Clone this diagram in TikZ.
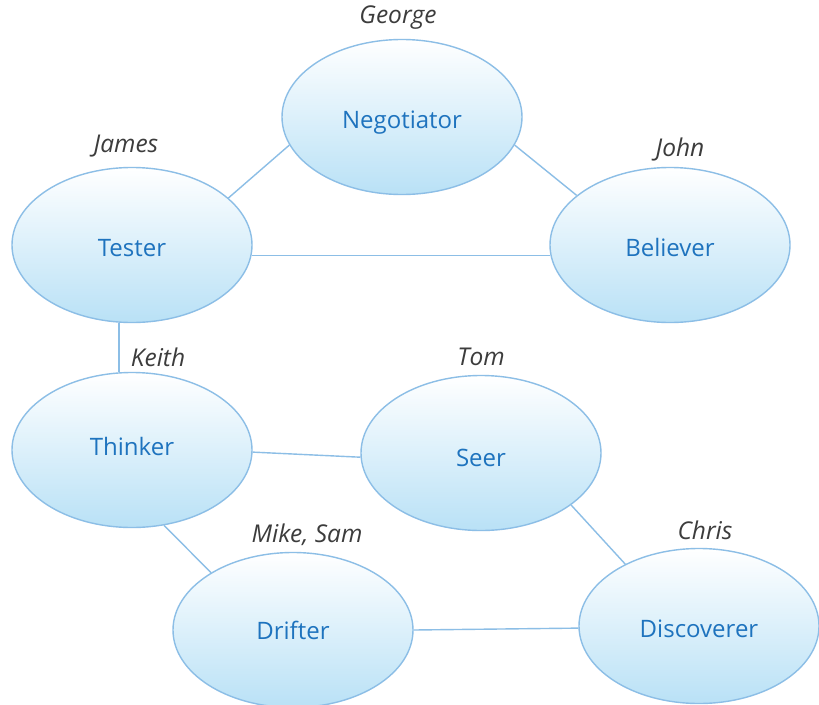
\documentclass[tikz,border=0pt]{standalone}
\usepackage{fontspec}
\setmainfont{Open Sans}
\usetikzlibrary{shapes.geometric}
\definecolor{rim}{RGB}{140,190,230}
\definecolor{fillbot}{RGB}{185,225,246}
\definecolor{roletext}{RGB}{30,115,190}
\definecolor{nametext}{RGB}{60,60,60}
% shift a label vertically without changing its box
\newcommand\nudge[2]{\raisebox{#1}[\height][\depth]{#2}}
\tikzset{
  role/.style={ellipse, draw=rim, line width=1.4pt, top color=white, bottom color=fillbot,
    minimum width=240pt, minimum height=155pt, inner sep=0pt,
    text=roletext, font=\fontsize{24}{26}\selectfont},
  person/.style={text=nametext, font=\fontsize{24.5}{27}\selectfont\itshape, inner sep=0pt},
  link/.style={draw=rim, line width=1.4pt}
}
\begin{document}
\begin{tikzpicture}[x=1pt,y=-1pt]
\useasboundingbox (0,0) rectangle (819,704);
\fill[white] (0,0) rectangle (819,704);

% roles
\node[role] (neg)  at (402,117) {\nudge{-6pt}{Negotiator}};
\node[role] (test) at (132,245) {\nudge{-3pt}{Tester}};
\node[role] (bel)  at (670,245) {\nudge{-2pt}{Believer}};
\node[role] (thk)  at (132,450) {\nudge{4pt}{Thinker}};
\node[role] (seer) at (481,453) {\nudge{-5pt}{Seer}};
\node[role] (drf)  at (293,630) {Drifter};
\node[role] (disc) at (699,626) {\nudge{-3pt}{Discoverer}};

% people
\node[person] (george) at (398,18)  {George};
\node[person] (james)  at (126,146) {James};
\node[person] (john)   at (680,149) {John};
\node[person] (keith)  at (158,357) {Keith};
\node[person] (tom)    at (481,357) {Tom};
\node[person] (mike)   at (307,535) {Mike, Sam};
\node[person] (chris)  at (705,530) {Chris};

% links
\draw[link] (test.26.8) -- (neg.194.9);
\draw[link] (neg.-14.3) -- (bel.152.2);
\draw[link] (test.-5.7) -- (bel.185.6);
\draw[link] ([xshift=-13pt]test.south) -- ([xshift=-13pt]thk.north);
\draw[link] (thk.-1) -- (seer.182);
\draw[link] (thk.-67.4) -- (drf.145.4);
\draw[link] (seer.-30.7) -- (disc.140.2);
\draw[link] (drf.0.5) -- (disc.181.4);
\end{tikzpicture}
\end{document}
